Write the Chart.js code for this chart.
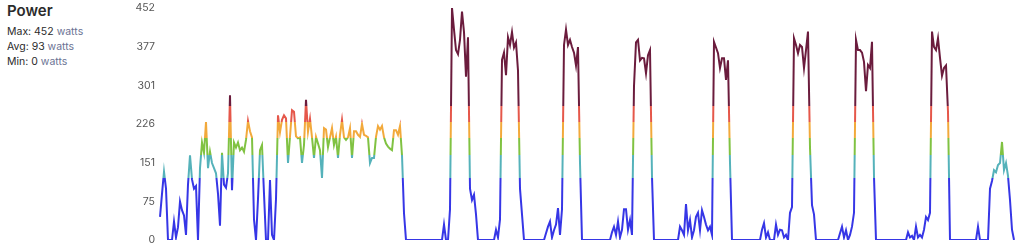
<!DOCTYPE html>
<html>
<head>
<meta charset="utf-8">
<script src="https://cdn.jsdelivr.net/npm/chart.js@4"></script>
<style>
  html, body { margin: 0; padding: 0; background: #fff; }
  body { width: 1024px; height: 247px; position: relative; overflow: hidden; font-family: Inter, "Noto Sans", sans-serif; }
  #info { position: absolute; left: 7px; top: 1px; color: #2b2b2b; }
  #info h3 { margin: 0 0 3px 0; font-size: 15px; font-weight: 600; line-height: 20px; }
  #info div { font-size: 10.5px; line-height: 15px; }
  #info span { color: #6b7394; }
  #chart { position: absolute; left: 0; top: 0; }
</style>
</head>
<body>
<div id="info">
  <h3>Power</h3>
  <div>Max: 452 <span>watts</span></div>
  <div>Avg: 93 <span>watts</span></div>
  <div>Min: 0 <span>watts</span></div>
</div>
<canvas id="chart" width="1024" height="247"></canvas>
<script>
// power samples (watts), evenly spaced
const power = [
  45,90,133,100,0,0,0,36,5,25,75,58,48,10,108,165,118,100,105,0,
  140,190,170,230,140,172,150,140,130,90,28,170,108,102,130,282,97,190,180,190,
  175,180,172,195,232,212,200,40,0,80,175,185,90,0,0,117,10,0,80,243,
  210,234,243,237,150,202,253,250,202,198,200,150,185,273,211,236,200,160,201,188,
  175,121,218,215,181,200,218,185,201,160,205,234,200,195,200,218,160,212,212,205,
  201,226,205,203,200,150,160,160,201,222,215,222,200,188,182,178,175,214,214,205,
  222,165,52,0,0,0,0,0,0,0,0,0,0,0,0,0,0,0,0,0,
  0,0,30,0,0,60,452,410,370,362,390,445,405,318,395,100,78,88,50,0,
  0,0,0,0,0,0,0,0,20,5,40,351,365,321,395,380,405,375,385,330,
  100,50,0,0,0,0,0,0,0,0,0,0,0,13,26,36,5,19,30,62,
  10,60,380,410,380,390,376,365,340,376,150,0,0,0,0,0,0,0,0,0,
  0,0,0,0,0,0,15,26,10,36,5,20,60,60,20,39,10,300,385,390,
  350,355,354,325,360,370,123,0,0,0,0,0,0,0,0,0,0,0,0,0,
  26,19,10,70,19,39,5,19,45,53,19,58,45,30,19,26,10,386,375,364,
  335,354,354,312,350,150,0,0,0,0,0,0,0,0,0,0,0,0,0,0,
  0,20,33,5,15,0,0,0,30,10,20,19,5,10,0,53,64,393,380,364,
  380,376,335,370,406,180,68,50,0,0,0,0,0,0,0,0,0,0,0,0,
  13,26,5,19,0,10,26,53,390,370,370,365,347,290,341,335,386,123,0,0,
  0,0,0,0,0,0,0,0,0,0,0,0,0,0,15,5,8,0,26,5,
  10,5,20,45,39,53,406,376,370,393,355,320,335,340,250,0,0,0,0,0,
  0,0,0,0,0,0,0,0,0,26,0,0,0,0,0,100,115,136,132,146,
  150,191,136,150,125,78,20,0
];
const labels = power.map((v, i) => i);

// zone limits (watts) and colours, low to high
const zoneLimits = [121, 166, 199, 230, 262];
const zoneColors = ['#3636e6', '#55b2ba', '#80c242', '#f2a93b', '#e5574a', '#6b1c3d'];

const powerMax = 452;
const tickValues = [0, 75, 151, 226, 301, 377, 452];

function zoneGradient(context) {
  const chart = context.chart;
  const area = chart.chartArea;
  if (!area) return zoneColors[0];
  const y = chart.scales.y;
  const bottom = y.getPixelForValue(0);
  const top = y.getPixelForValue(powerMax);
  const g = chart.ctx.createLinearGradient(0, bottom, 0, top);
  let prev = 0;
  zoneLimits.forEach((lim, i) => {
    const f = lim / powerMax;
    g.addColorStop(prev, zoneColors[i]);
    g.addColorStop(f, zoneColors[i]);
    prev = f;
  });
  g.addColorStop(prev, zoneColors[zoneColors.length - 1]);
  g.addColorStop(1, zoneColors[zoneColors.length - 1]);
  return g;
}

new Chart(document.getElementById('chart'), {
  type: 'line',
  data: {
    labels: labels,
    datasets: [{
      data: power,
      borderColor: zoneGradient,
      borderWidth: 2,
      pointRadius: 0,
      tension: 0,
      fill: false
    }]
  },
  options: {
    responsive: false,
    animation: false,
    devicePixelRatio: 1,
    layout: { autoPadding: false, padding: { left: 118, right: 10, top: 8, bottom: 7 } },
    plugins: { legend: { display: false }, tooltip: { enabled: false } },
    scales: {
      x: { display: false },
      y: {
        min: 0,
        max: powerMax,
        border: { display: false },
        grid: { display: false, drawTicks: false },
        afterFit: (axis) => {
          axis.width = 42;
          axis.paddingTop = 0;
          axis.paddingBottom = 0;
        },
        afterBuildTicks: (axis) => { axis.ticks = tickValues.map(v => ({ value: v })); },
        ticks: {
          padding: 5,
          color: '#555',
          font: { family: 'Inter', size: 10.5 },
          callback: (v) => v
        }
      }
    }
  }
});
</script>
</body>
</html>
